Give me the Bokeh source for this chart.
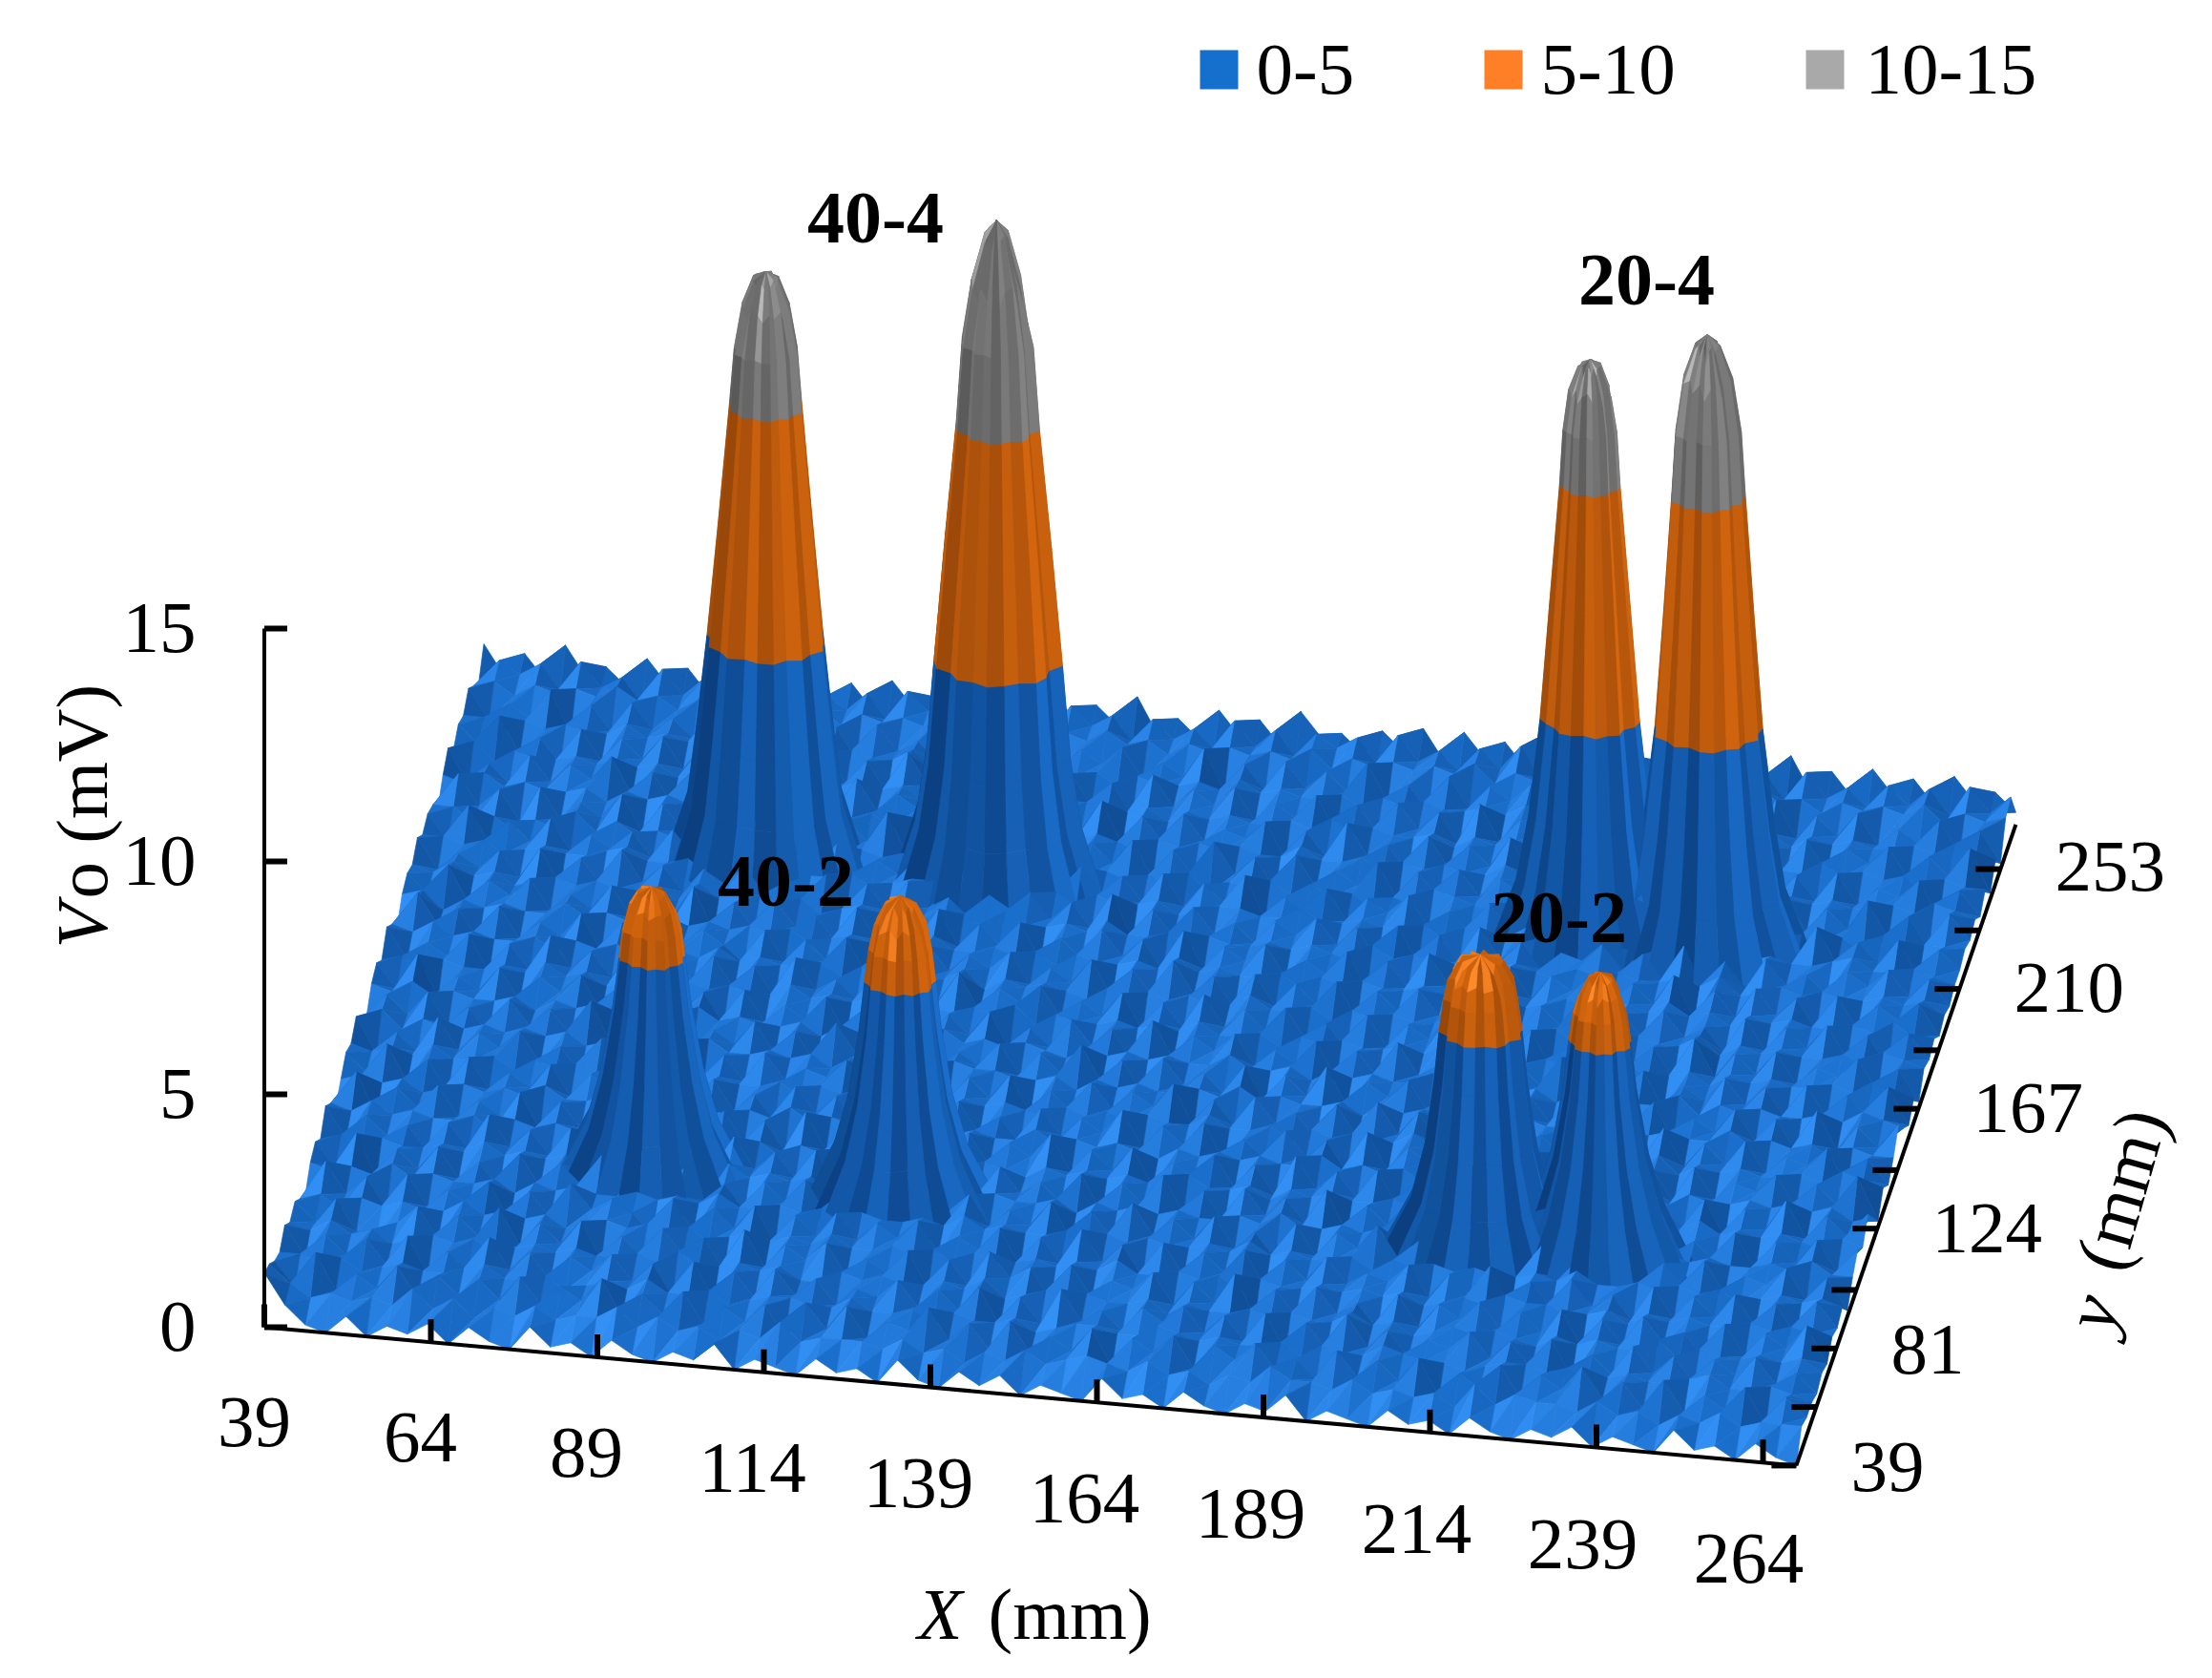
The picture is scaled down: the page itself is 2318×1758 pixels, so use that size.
import math
from bokeh.plotting import figure
from bokeh.models import Range1d, ColumnDataSource
from bokeh.core.properties import value
from bokeh.embed import file_html
from bokeh.resources import INLINE

# ---------- chart values ----------
X_TICKS = [39, 64, 89, 114, 139, 164, 189, 214, 239, 264]
Y_TICKS = [39, 81, 124, 167, 210, 253]
Y_MINOR = [39, 60, 81, 102, 124, 145, 167, 188, 210, 231, 253]
Z_TICKS = [0, 5, 10, 15]
LEGEND = ["0-5", "5-10", "10-15"]
LEGEND_COLORS = ["#1570CD", "#FF7F27", "#A9A9A9"]
GROUP_LABELS = ["40-4", "20-4", "40-2", "20-2"]

# surface heights, digit * 0.13 mV, front row (y=39) first, x=39 on the left
FLOOR = [
"9410302130310412031021402103120410313021041203102140210312031021302104120310",
"8534343635243534463534243634443534243534543534243644353434263544353424353444",
"6282537263637364826372536173725483627253716472647352736371537264836272537163",
"5545345445644534546445345544644535445345544654544535446544345545345445644543",
"7263627152836264736171627362547363716283526473627162836254736271527362647352",
"5464534545345454454644545335454454634545445354454544645345454354544635445453",
"6372147263826371527361826472537162846172547263816273517264736371627351726482",
"4535454464545345454534545464454535445454644545354454545345465544535454454544",
"2836172537162846417263716373647253716283617263716373547263816273517263726173",
"5454645445354544545464454535445464544535454454645445354545445464454545345454",
"6281637251726382647251637263816472537162836372517264836271537261826372547261",
"4535445464545345454464545354454645445354545445464454535445465544535454454644",
"7263516283627153726183627163741627352716382617362816372547263816273527163726",
"5464544535454454645445354544645454354545446445354544545465445354544645454354",
"2816372537162835163726182637153726482637153726183627153726382617352716382637",
"4545345454644545354454645445354544645454354545446454535445454644535445454534",
"6382617253726481637251736281637251736482637152736182647253716283617254726381",
"5454644535454454645445354544645454354545446445354544645445354544635454454654",
"7152836472517263816273547162826371527364816273517283726471527361826372547162",
"4635445454534545464454535445465544535454454645445354545465445354544645453544",
"2637251736281637253726183627153726382617352716382647253716273627153726182637",
"5464544535454454645445354544645454354545446445354544645445354544635454454654",
"6281537264716283617253716482637152736182647253716283517263826471537361726382",
"4535445464534545454464545354454635445454644535454454635445465544535454454644",
"7253716283627153726183527163826472537162836372517264836271537261826372547261",
"5464544535454454645445354544635454354545446445354544645445354544635454454654",
"2836172537162846417263716273647253716283617263716373547263816273517263726173",
"5635454464545345454534545464454535445464544535454454645345455464535454454644",
"6382647253726381627351726482637152736182647253716283517264736381627361726472",
"5464534545445364454534545445364454644535445454364544545435454454634545445453",
"7253627162836264735271627352647362816273526473617162836254736281627352647362",
"5545345445644534546445345544654535445345544644544535446544345545345445644543",
"6282637253627364826372536173725473627263815372647252736371637254736282637163",
"5534243635343524453534343624443534343524453534243654353424353544353434253444",
"2836172537162736417263816273547263716283617253716273647253816273517263826173",
"5464544535454454645445354544645454354545446445354544645445354544635454454654",
"7152736482617253716283647152726381627354716283517263826471537261736272547162",
"4635445454534545464454535445465544535454454645445354545465445354544645453544",
"6382517263726481537261836271537261836472537162736182647263716283517264726381",
"5535454464545345454544635454454535445464544535454454645345455464535454454644",
"7253816273527163826173527163736472538162736382517264736281537261826372537261",
"5646565756465657564656575646565756465656574656565746565756465657564656574656",
"3757384628473748364738573647385737463847375738463748374628473657384637473847",
"7262835273627263826273527262736382527362845263727362836272527363826273627352",
]
FLOOR_UNIT = 0.13
FLOOR_CELL_X = 230 / 75
FLOOR_CELL_Y = 230 / 43

# eight peaks: centre (mm), ring heights (mV) and ring radii (mm)
PEAK_X = [89.4, 124, 213.3, 231, 88.6, 126, 213, 231]
PEAK_Y = [213, 213, 211.5, 211, 99, 98, 99, 99]
PEAK_Z = [
    [0.3, 1.6, 3.0, 5.0, 7.5, 10.0, 11.2, 12.2, 12.8, 12.9],
    [0.3, 1.6, 3.0, 5.0, 7.5, 10.0, 11.8, 13.2, 14.2, 14.45],
    [0.3, 1.6, 3.0, 5.0, 7.5, 10.0, 11.2, 12.1, 12.6, 12.7],
    [0.3, 1.6, 3.0, 5.0, 7.5, 10.0, 11.4, 12.6, 13.3, 13.5],
    [0.3, 1.5, 2.6, 4.0, 5.0, 5.6, 6.1, 6.4, 6.5],
    [0.3, 1.5, 2.6, 4.0, 5.0, 5.7, 6.3, 6.7, 6.85],
    [0.3, 1.5, 2.6, 4.0, 5.0, 5.7, 6.2, 6.55, 6.65],
    [0.3, 1.5, 2.6, 4.0, 5.0, 5.6, 6.1, 6.4, 6.5],
]
PEAK_R = [
    [14.5, 11.5, 10.2, 8.6, 6.9, 5.3, 4.6, 3.4, 1.8, 0.0],
    [15.0, 12.0, 10.4, 9.2, 7.6, 5.9, 5.0, 3.6, 1.7, 0.0],
    [14.0, 10.5, 8.6, 7.0, 5.6, 4.2, 3.7, 2.9, 1.6, 0.0],
    [14.5, 11.0, 9.4, 7.7, 6.4, 5.2, 4.6, 3.4, 1.7, 0.0],
    [14.0, 9.6, 7.4, 5.6, 4.7, 4.2, 3.4, 2.2, 0.0],
    [14.0, 9.6, 7.4, 5.8, 5.0, 4.4, 3.6, 2.2, 0.0],
    [14.5, 10.0, 8.0, 6.6, 5.9, 5.2, 4.6, 3.2, 0.0],
    [13.5, 9.4, 7.0, 5.2, 4.4, 3.8, 3.0, 1.9, 0.0],
]
RIM_JAG = [1.00, 0.94, 1.06, 1.02, 0.92, 1.08, 0.97, 1.05, 0.90, 1.04, 1.07, 0.95,
           1.03, 0.91, 1.06, 0.98, 1.08, 0.93, 1.02, 1.05, 0.92, 1.04, 0.96, 1.07]
RIM_TONE = [0.00, -0.16, 0.12, -0.08, 0.20, -0.13, 0.08, -0.19, 0.16, 0.03, -0.13, 0.22,
            -0.10, 0.14, -0.20, 0.10, -0.06, 0.20, -0.14, 0.05, 0.16, -0.17, 0.11, -0.05]
RIM_DROP = [0.00, 0.25, 0.05, 0.40, 0.10, 0.00, 0.30, 0.15, 0.00, 0.35, 0.05, 0.20,
            0.00, 0.30, 0.10, 0.45, 0.00, 0.15, 0.30, 0.05, 0.25, 0.00, 0.40, 0.10]

# ---------- projection of the Excel-style 3D plot ----------
ORIGIN = (276.5, 1390.0)
EX = (6.98, 0.63)
EY = (1.00, -2.92)
ZS = 48.8
AXIS_END = 269


def proj(x, y, z=0.0):
    return (ORIGIN[0] + (x - 39) * EX[0] + (y - 39) * EY[0],
            ORIGIN[1] + (x - 39) * EX[1] + (y - 39) * EY[1] - z * ZS)


BANDS = [(0, 5, ("#07346E", "#1A6ECB", "#3390F5")),
         (5, 10, ("#8A4008", "#D8680F", "#FF8A2A")),
         (10, 15, ("#4E4E4E", "#868686", "#B8B8B8"))]
LIGHT = (-0.28, -0.42, 0.86)
Z_MM = 4.0
FLOOR_LIFT = 0.07


def mix(a, b, t):
    ca = [int(a[i:i + 2], 16) for i in (1, 3, 5)]
    cb = [int(b[i:i + 2], 16) for i in (1, 3, 5)]
    return "#%02x%02x%02x" % tuple(round(p + (q - p) * t) for p, q in zip(ca, cb))


def tone_color(ramp, t):
    t = max(0.0, min(1.0, t))
    return mix(ramp[0], ramp[1], t / 0.8) if t < 0.8 else mix(ramp[1], ramp[2], (t - 0.8) / 0.2)


def facet_tone(poly):
    (x0, y0, z0), (x1, y1, z1), (x2, y2, z2) = poly[0], poly[1], poly[2]
    ux, uy, uz = x1 - x0, y1 - y0, (z1 - z0) * Z_MM
    vx, vy, vz = x2 - x0, y2 - y0, (z2 - z0) * Z_MM
    nx, ny, nz = uy * vz - uz * vy, uz * vx - ux * vz, ux * vy - uy * vx
    n = math.sqrt(nx * nx + ny * ny + nz * nz) or 1.0
    if nz < 0:
        nx, ny, nz = -nx, -ny, -nz
    s = (nx * LIGHT[0] + ny * LIGHT[1] + nz * LIGHT[2]) / n
    return (s - 0.15) / 0.9


def clip(poly, level, keep_above):
    out = []
    for i, a in enumerate(poly):
        b = poly[(i + 1) % len(poly)]
        ina = a[2] >= level if keep_above else a[2] <= level
        inb = b[2] >= level if keep_above else b[2] <= level
        if ina:
            out.append(a)
        if ina != inb:
            t = (level - a[2]) / (b[2] - a[2])
            out.append((a[0] + (b[0] - a[0]) * t, a[1] + (b[1] - a[1]) * t, level))
    return out


facets = []


def add_facet(poly, tone):
    key = sum(proj(v[0], v[1])[1] for v in poly) / len(poly)
    zs = [v[2] for v in poly]
    for lo, hi, ramp in BANDS:
        if max(zs) <= lo or min(zs) >= hi:
            continue
        part = poly
        if min(zs) < lo:
            part = clip(part, lo, True)
        if max(zs) > hi:
            part = clip(part, hi, False)
        if len(part) >= 3:
            facets.append((key, part, tone_color(ramp, tone)))


# floor
nrows = len(FLOOR)
ncols = 76
grid = [[int(c) * FLOOR_UNIT for c in row.ljust(ncols, row[-1])[:ncols]] for row in FLOOR]
for j in range(nrows - 1):
    for i in range(ncols - 1):
        x0, x1 = 39 + i * FLOOR_CELL_X, 39 + (i + 1) * FLOOR_CELL_X
        y0, y1 = 39 + j * FLOOR_CELL_Y, 39 + (j + 1) * FLOOR_CELL_Y
        cx, cy = (x0 + x1) / 2, (y0 + y1) / 2
        if any(math.hypot(cx - px, cy - py) < pr[2] * 0.7 for px, py, pr in zip(PEAK_X, PEAK_Y, PEAK_R)):
            continue
        a, b = (x0, y0, grid[j][i]), (x1, y0, grid[j][i + 1])
        c, d = (x1, y1, grid[j + 1][i + 1]), (x0, y1, grid[j + 1][i])
        t1, t2 = [a, b, c], [a, c, d]
        add_facet(t1, facet_tone(t1) + FLOOR_LIFT)
        add_facet(t2, facet_tone(t2) + FLOOR_LIFT)

# peaks
N_ANG = len(RIM_JAG)
for k, (px, py, zl, rl) in enumerate(zip(PEAK_X, PEAK_Y, PEAK_Z, PEAK_R)):
    nr = len(zl)
    for r in range(nr - 1):
        for q in range(N_ANG):
            ring = []
            for rr, qq in ((r, q), (r, q + 1), (r + 1, q + 1), (r + 1, q)):
                jag = RIM_JAG[(qq + k * 5) % N_ANG]
                ang = 2 * math.pi * qq / N_ANG
                rad = rl[rr] * (1 + (jag - 1) * (0.6 + 1.2 * rr / nr))
                z = zl[rr]
                if rr in (nr - 3, nr - 2):
                    z -= RIM_DROP[(qq + k * 3) % N_ANG] * (zl[nr - 1] - zl[nr - 3])
                ring.append((px + rad * math.cos(ang), py + rad * math.sin(ang), z))
            mid = 2 * math.pi * (q + 0.5) / N_ANG
            base = 0.45 + 0.12 * math.cos(mid)
            natural = min(facet_tone(ring), 0.8)
            tone = (natural if r >= nr - 4 and natural > base else base) + RIM_TONE[(q + k * 7) % N_ANG]
            add_facet(ring, tone)

facets.sort(key=lambda f: f[0])
xs, ys, cols = [], [], []
for _, part, col in facets:
    pts = [proj(*v) for v in part]
    xs.append([pt[0] for pt in pts])
    ys.append([pt[1] for pt in pts])
    cols.append(col)

# ---------- page ----------
p = figure(width=2302, height=1742, x_range=Range1d(0, 2302), y_range=Range1d(1742, 0),
           toolbar_location=None, output_backend="svg", min_border=0,
           x_axis_location=None, y_axis_location=None, outline_line_color=None)
p.grid.visible = False

p.patches(xs="xs", ys="ys", fill_color="c", line_color="c", line_width=0.7,
          source=ColumnDataSource(dict(xs=xs, ys=ys, c=cols)))

# axis lines and ticks
lines_x, lines_y = [], []


def seg(a, b):
    lines_x.append([a[0], b[0]])
    lines_y.append([a[1], b[1]])


seg(proj(39, 39, 0), proj(39, 39, 15))
seg(proj(39, 39, 0), proj(AXIS_END, 39, 0))
seg(proj(AXIS_END, 39, 0), proj(AXIS_END, AXIS_END, 0))
p.multi_line(lines_x, lines_y, line_color="black", line_width=4)

tick_x, tick_y = [], []
for z in Z_TICKS:
    a = proj(39, 39, z)
    tick_x.append([a[0], a[0] + 24]); tick_y.append([a[1], a[1]])
for v in X_TICKS:
    a = proj(v, 39, 0)
    tick_x.append([a[0], a[0]]); tick_y.append([a[1], a[1] - 24])
for v in Y_MINOR:
    a = proj(AXIS_END, v, 0)
    tick_x.append([a[0], a[0] - 26]); tick_y.append([a[1], a[1]])
p.multi_line(tick_x, tick_y, line_color="black", line_width=6)

SERIF = value("Liberation Serif")
FS = 77
BASE_SHIFT = 0.34


def txt(x, y, s, size=FS, style="normal", align="left", angle=0.0):
    d = BASE_SHIFT * size
    p.text([x - d * math.sin(angle)], [y - d * math.cos(angle)], text=[s], text_font=SERIF,
           text_font_size=f"{size}px", text_font_style=style,
           text_align=align, text_baseline="alphabetic", text_color="black", angle=angle)


for z in Z_TICKS:
    a = proj(39, 39, z)
    txt(205, a[1] + 26, str(z), align="right")
for v in X_TICKS:
    txt(266 + (v - 39) * 6.96, 1516 + (v - 39) * 0.636, str(v), align="center")
for v in Y_TICKS:
    txt(1939 + (v - 39) * 1.0, 1563 - (v - 39) * 2.94, str(v))

# axis titles
txt(112, 993, "V", style="italic", angle=math.pi / 2)
txt(112, 941, "o (mV)", angle=math.pi / 2)
txt(961, 1717, "X", style="italic")
txt(1035, 1717, "(mm)")
ang_y = math.radians(74)
txt(2212, 1398, "y", style="italic", angle=ang_y)
txt(2224, 1335, "(mm)", angle=ang_y)

# group labels
for s, x, y in zip(GROUP_LABELS, [917, 1725, 823, 1633], [255, 320, 950, 988]):
    txt(x, y, s, size=78, style="bold", align="center")

# legend
for s, c, x0, tx in zip(LEGEND, LEGEND_COLORS, [1257, 1555, 1892], [1316, 1614, 1954]):
    p.quad(left=[x0], right=[x0 + 40], top=[52], bottom=[93], fill_color=c, line_color=None)
    txt(tx, 99, s)

open("out.html", "w").write(file_html(p, INLINE))
